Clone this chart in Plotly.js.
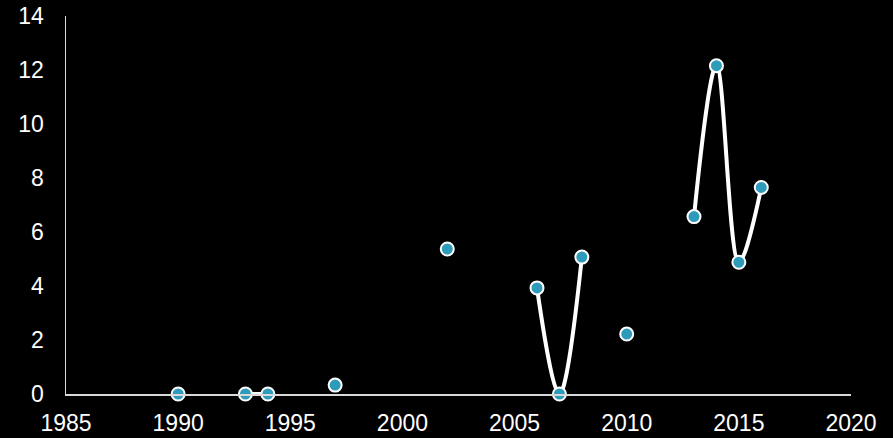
<!DOCTYPE html>
<html>
<head>
<meta charset="utf-8">
<script src="https://cdn.plot.ly/plotly-3.0.1.min.js"></script>
<style>
  html, body { margin: 0; padding: 0; background: #000; }
  #chart { width: 893px; height: 438px; }
</style>
</head>
<body>
<div id="chart"></div>
<script>
// Yearly observations; consecutive years are joined by a smoothed line.
const years  = [1990, 1993, 1994, 1997, 2002, 2006, 2007, 2008, 2010, 2013, 2014, 2015, 2016];
const values = [0, 0, 0, 0.33, 5.37, 3.93, 0, 5.07, 2.22, 6.57, 12.16, 4.88, 7.65];
const xTicks = [1985, 1990, 1995, 2000, 2005, 2010, 2015, 2020];
const yTicks = [0, 2, 4, 6, 8, 10, 12, 14];

// Insert a break wherever a year is skipped so only adjacent years connect.
const xs = [], ys = [];
years.forEach((yr, i) => {
  if (i > 0 && yr - years[i - 1] > 1) { xs.push(null); ys.push(null); }
  xs.push(yr); ys.push(values[i]);
});

const trace = {
  x: xs, y: ys,
  type: 'scatter',
  mode: 'lines+markers',
  connectgaps: false,
  cliponaxis: false,
  line: { color: '#ffffff', width: 4, shape: 'spline', smoothing: 1 },
  marker: { size: 13, color: '#2e9bbb', line: { color: '#ffffff', width: 2 } },
  hoverinfo: 'x+y'
};

const tickFont = { family: 'Liberation Sans, Arial, sans-serif', size: 23, color: '#ffffff' };

const layout = {
  width: 893, height: 438,
  paper_bgcolor: '#000000',
  plot_bgcolor: '#000000',
  margin: { l: 66, r: 42, t: 16, b: 44 },
  showlegend: false,
  xaxis: {
    range: [1985, 2020],
    tickvals: xTicks,
    ticktext: xTicks.map(String),
    showgrid: false,
    zeroline: false,
    showline: true,
    linecolor: '#d9d9d9',
    linewidth: 1.5,
    ticks: '',
    ticklabelstandoff: 8,
    tickfont: tickFont
  },
  yaxis: {
    range: [0, 14],
    tickvals: yTicks,
    ticktext: yTicks.map(String),
    showgrid: false,
    zeroline: false,
    showline: true,
    linecolor: '#d9d9d9',
    linewidth: 1.5,
    ticks: '',
    ticklabelstandoff: 16,
    tickfont: tickFont
  }
};

Plotly.newPlot('chart', [trace], layout, { displayModeBar: false, staticPlot: true });
</script>
</body>
</html>
